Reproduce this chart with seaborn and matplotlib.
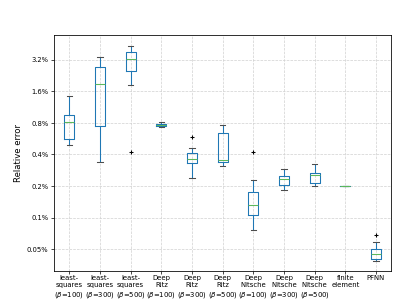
import numpy as np
import pandas as pd
import seaborn as sns
import matplotlib.pyplot as plt
from matplotlib.ticker import FixedLocator, NullLocator

# --- data (relative error in %) ---
categories = [
    "least-\nsquares\n($\\beta$=100)",
    "least-\nsquares\n($\\beta$=300)",
    "least-\nsquares\n($\\beta$=500)",
    "Deep\nRitz\n($\\beta$=100)",
    "Deep\nRitz\n($\\beta$=300)",
    "Deep\nRitz\n($\\beta$=500)",
    "Deep\nNitsche\n($\\beta$=100)",
    "Deep\nNitsche\n($\\beta$=300)",
    "Deep\nNitsche\n($\\beta$=500)",
    "finite\nelement",
    "PFNN",
]
whisker_lo = [0.495, 0.340, 1.856, 0.726, 0.236, 0.307, 0.076, 0.185, 0.198, 0.2, 0.0387]
q1 = [0.561, 0.747, 2.51, 0.741, 0.333, 0.336, 0.1056, 0.2067, 0.216, 0.2, 0.0405]
median = [0.821, 1.886, 3.27, 0.763, 0.359, 0.353, 0.131, 0.232, 0.255, 0.2, 0.0445]
q3 = [0.952, 2.72, 3.79, 0.780, 0.410, 0.636, 0.1745, 0.2465, 0.269, 0.2, 0.050]
whisker_hi = [1.456, 3.40, 4.29, 0.810, 0.463, 0.759, 0.226, 0.2915, 0.325, 0.2, 0.058]
outliers = [[], [], [0.422], [], [0.590], [], [0.424], [], [], [], [0.0675]]

ytick_vals = [0.05, 0.1, 0.2, 0.4, 0.8, 1.6, 3.2]

# --- build a sample per group whose box statistics match the summary values ---
rows = []
for i, cat in enumerate(categories):
    core = [whisker_lo[i], q1[i], q1[i], median[i], median[i], median[i],
            q3[i], q3[i], whisker_hi[i]]
    for o in outliers[i]:
        if o < q1[i]:
            core = [o] + core + [whisker_hi[i]]
        else:
            core = [whisker_lo[i]] + core + [o]
    rows += [(cat, v) for v in core]
df = pd.DataFrame(rows, columns=["method", "error"])

# --- plot ---
fig = plt.figure(figsize=(6.4, 4.8), dpi=63.6)
ax = fig.add_axes([0.1327, 0.1125, 0.8287, 0.7705])

blue = "#1f77b4"
sns.boxplot(
    data=df, x="method", y="error", order=categories, ax=ax,
    width=0.33, fill=False, whis=1.5, color=blue,
    boxprops=dict(color=blue, linewidth=1.2),
    whiskerprops=dict(color=blue, linewidth=1.2),
    capprops=dict(color="0.3", linewidth=1.2),
    medianprops=dict(color="#5cb85c", linewidth=1.2),
    flierprops=dict(marker="+", markeredgecolor="k", markersize=5.5,
                    markeredgewidth=1.2),
)

ax.set_yscale("log", base=2)
ax.set_ylim(0.0312, 5.45)
ax.yaxis.set_major_locator(FixedLocator(ytick_vals))
ax.yaxis.set_minor_locator(NullLocator())
ax.set_yticklabels([f"{v:g}%" for v in ytick_vals])
ax.set_xlim(-0.5, len(categories) - 0.5)

ax.grid(True, linestyle="--", color="0.82", linewidth=0.8)
ax.set_axisbelow(True)
ax.set_xlabel("")
ax.set_ylabel("Relative error", fontsize=9.6)
ax.tick_params(axis="x", labelsize=7.8, pad=2, length=3)
ax.tick_params(axis="y", labelsize=7.6, length=3)
for s in ax.spines.values():
    s.set_color("k")
    s.set_linewidth(0.9)

fig.savefig("out.png", dpi=63.6)
